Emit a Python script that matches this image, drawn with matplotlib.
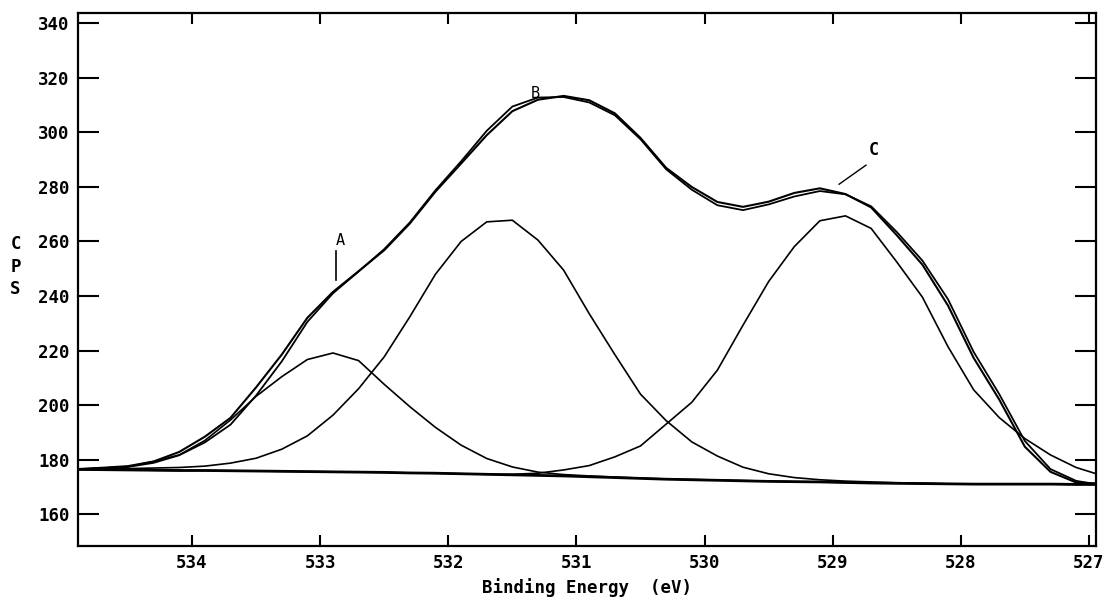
import matplotlib
matplotlib.use("Agg")
import matplotlib.pyplot as plt

# binding energy grid (eV)
energy = [534.9, 534.7, 534.5, 534.3, 534.1, 533.9, 533.7, 533.5, 533.3, 533.1,
          532.9, 532.7, 532.5, 532.3, 532.1, 531.9, 531.7, 531.5, 531.3, 531.1,
          530.9, 530.7, 530.5, 530.3, 530.1, 529.9, 529.7, 529.5, 529.3, 529.1,
          528.9, 528.7, 528.5, 528.3, 528.1, 527.9, 527.7, 527.5, 527.3, 527.1,
          526.95]

background = [176.4, 176.3, 176.2, 176.1, 176.0, 176.0, 175.9, 175.8, 175.7, 175.6,
              175.5, 175.4, 175.3, 175.1, 175.0, 174.8, 174.6, 174.4, 174.2, 174.0,
              173.7, 173.4, 173.1, 172.8, 172.6, 172.4, 172.2, 172.0, 171.9, 171.8,
              171.6, 171.4, 171.3, 171.2, 171.1, 171.0, 171.0, 171.0, 171.0, 170.9,
              170.9]

peak_a = [176.5, 176.9, 177.4, 179.3, 181.7, 187.0, 194.5, 203.2, 210.4, 216.7,
          219.1, 216.3, 207.6, 199.4, 191.8, 185.3, 180.4, 177.3, 175.4, 174.5,
          174.0, 173.6, 173.2, 172.9, 172.7, 172.5, 172.3, 172.1, 171.9, 171.8,
          171.6, 171.4, 171.3, 171.2, 171.1, 171.0, 171.0, 171.0, 171.0, 170.9,
          170.9]

peak_b = [176.4, 176.5, 176.7, 176.9, 177.1, 177.6, 178.7, 180.5, 183.8, 188.7,
          196.3, 206.0, 217.7, 232.4, 248.0, 260.0, 267.2, 267.8, 260.5, 249.5,
          233.5, 218.5, 204.0, 194.3, 186.5, 181.3, 177.2, 174.8, 173.4, 172.6,
          172.1, 171.8, 171.5, 171.3, 171.1, 171.0, 171.0, 171.0, 171.0, 170.9,
          170.9]

peak_c = [176.4, 176.3, 176.2, 176.1, 176.0, 176.0, 175.9, 175.8, 175.7, 175.6,
          175.5, 175.4, 175.3, 175.1, 175.0, 174.8, 174.6, 174.6, 175.0, 176.2,
          177.8, 181.0, 185.0, 193.0, 201.0, 212.8, 229.3, 245.3, 258.1, 267.6,
          269.4, 264.8, 252.5, 239.6, 221.4, 205.6, 195.4, 187.7, 181.7, 177.1,
          174.9]

envelope = [176.5, 177.0, 177.6, 179.3, 182.8, 188.4, 195.3, 206.5, 218.5, 232.0,
            241.5, 249.1, 256.8, 266.6, 278.3, 288.6, 299.0, 307.8, 312.0, 313.4,
            311.8, 307.0, 298.0, 287.0, 280.0, 274.5, 272.7, 274.6, 277.8, 279.5,
            277.4, 272.5, 262.3, 251.5, 236.5, 217.3, 202.0, 184.7, 175.5, 171.6,
            171.3]

measured = [176.4, 176.8, 177.3, 178.8, 181.6, 186.3, 192.8, 203.5, 216.0, 230.5,
            241.0, 249.0, 257.2, 267.0, 278.8, 289.4, 300.6, 309.5, 312.8, 313.0,
            311.0, 306.3, 297.5, 286.5, 279.0, 273.3, 271.5, 273.6, 276.5, 278.5,
            277.3, 272.9, 263.5, 253.0, 238.8, 219.5, 204.0, 186.8, 176.5, 172.2,
            171.0]

x_ticks = [534, 533, 532, 531, 530, 529, 528, 527]
y_ticks = [160, 180, 200, 220, 240, 260, 280, 300, 320, 340]

FONT = "DejaVu Sans Mono"

fig = plt.figure(figsize=(11.11, 6.06), dpi=100)
ax = fig.add_axes([0.0702, 0.099, 0.9163, 0.8795])

ax.plot(energy, background, color="k", lw=2.0)
for comp in (peak_a, peak_b, peak_c):
    ax.plot(energy, comp, color="k", lw=1.2)
ax.plot(energy, envelope, color="k", lw=1.5)
ax.plot(energy, measured, color="k", lw=1.3)

ax.set_xlim(534.89, 526.945)
ax.set_ylim(148.3, 343.8)
ax.set_xticks(x_ticks)
ax.set_yticks(y_ticks)
ax.tick_params(axis="x", direction="in", length=8, width=1.5, top=True, pad=6)
ax.tick_params(axis="y", direction="in", length=15, width=1.5, right=True, pad=6)
for lab in ax.get_xticklabels() + ax.get_yticklabels():
    lab.set_fontfamily(FONT)
    lab.set_fontweight("bold")
    lab.set_fontsize(12.5)
for sp in ax.spines.values():
    sp.set_linewidth(1.6)

ax.set_xlabel("Binding Energy  (eV)", fontfamily=FONT, fontweight="bold",
              fontsize=12.5, labelpad=4)
fig.text(0.014, 0.56, "C\nP\nS", fontfamily=FONT, fontweight="bold",
         fontsize=12.5, ha="center", va="center", linespacing=1.3)

# peak labels with their marker lines
ax.text(532.84, 260.5, "A", fontfamily=FONT, fontsize=11, ha="center", va="center")
ax.plot([532.88, 532.88], [246.0, 256.5], color="k", lw=1.2)
ax.text(531.32, 314.4, "B", fontfamily=FONT, fontsize=11, ha="center", va="center")
ax.text(528.68, 293.5, "C", fontfamily=FONT, fontweight="bold", fontsize=12,
        ha="center", va="center")
ax.plot([528.74, 528.95], [288.0, 281.0], color="k", lw=1.0)

fig.savefig("out.png", dpi=100)
